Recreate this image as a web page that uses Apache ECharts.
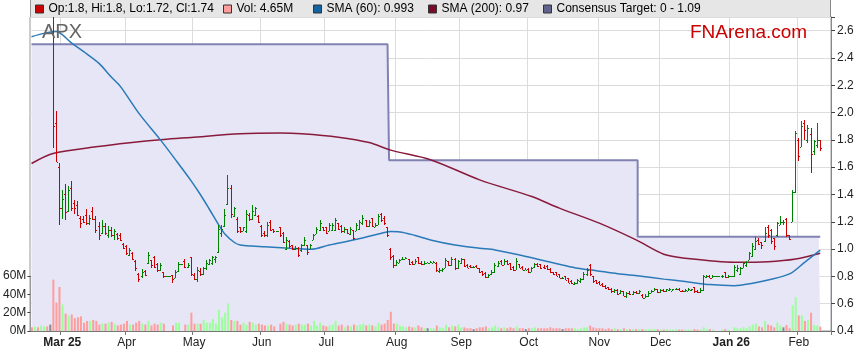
<!DOCTYPE html>
<html><head><meta charset="utf-8">
<script src="https://cdn.jsdelivr.net/npm/echarts@6/dist/echarts.min.js"></script>
<style>html,body{margin:0;padding:0;background:#fff}#c{width:859px;height:363px}</style>
</head><body><div id="c"></div>
<script>
// ---- tick labels (month starts, as category index) ----
const monthStarts = [10,31,53,75,96,119,140,162,185,205,228,250];
const monthLabels = ['Mar 25','Apr','May','Jun','Jul','Aug','Sep','Oct','Nov','Dec','Jan 26','Feb'];
const boldLabels = ['Mar 25','Jan 26'];

// ---- OHLC (price, $) ----
const open = [
2.98,2.97,3.00,2.95,3.01,3.05,2.98,2.95,1.92,1.60,
1.30,1.40,1.28,1.45,1.34,1.32,1.23,1.22,1.25,1.19,
1.28,1.22,1.17,1.12,1.17,1.10,1.14,1.10,1.11,1.10,
1.04,1.02,0.96,0.97,0.91,0.82,0.80,0.84,0.90,0.92,
0.94,0.89,0.85,0.83,0.80,0.80,0.81,0.79,0.84,0.89,
0.91,0.87,0.94,0.81,0.78,0.84,0.82,0.86,0.89,0.90,
0.93,0.98,1.12,1.17,1.33,1.45,1.24,1.22,1.16,1.13,
1.13,1.25,1.22,1.25,1.24,1.17,1.12,1.10,1.20,1.15,
1.13,1.16,1.12,1.00,1.06,1.03,1.00,1.01,0.99,1.03,
1.03,1.00,1.07,1.11,1.14,1.165,1.16,1.13,1.14,1.14,
1.19,1.17,1.13,1.15,1.11,1.14,1.13,1.15,1.19,1.21,
1.17,1.23,1.16,1.18,1.26,1.23,1.16,1.00,0.95,0.88,
0.90,0.925,0.93,0.925,0.905,0.89,0.94,0.90,0.89,0.90,
0.90,0.90,0.90,0.84,0.845,0.86,0.915,0.88,0.93,0.86,
0.90,0.925,0.885,0.875,0.87,0.875,0.86,0.84,0.825,0.795,
0.815,0.83,0.875,0.915,0.885,0.915,0.90,0.87,0.85,0.89,
0.87,0.85,0.855,0.835,0.87,0.89,0.89,0.87,0.875,0.855,
0.835,0.83,0.815,0.79,0.80,0.785,0.765,0.745,0.75,0.765,
0.78,0.82,0.88,0.80,0.77,0.76,0.745,0.73,0.72,0.71,
0.69,0.70,0.675,0.69,0.66,0.68,0.67,0.685,0.675,0.665,
0.645,0.655,0.68,0.695,0.705,0.685,0.70,0.69,0.70,0.695,
0.705,0.71,0.695,0.69,0.695,0.70,0.72,0.69,0.685,0.70,
0.795,0.805,0.79,0.80,0.80,0.80,0.83,0.795,0.805,0.80,
0.85,0.82,0.86,0.88,0.92,0.95,1.00,1.07,1.05,1.06,
1.16,1.14,1.08,1.10,1.18,1.20,1.22,1.10,1.20,1.42,
1.80,1.75,1.92,1.80,1.84,1.72,1.76,1.80];
const high = [
3.02,3.03,3.02,3.04,3.08,3.06,3.00,2.98,2.01,1.63,
1.43,1.48,1.46,1.50,1.36,1.35,1.24,1.24,1.29,1.25,
1.31,1.24,1.20,1.21,1.19,1.17,1.16,1.15,1.12,1.12,
1.045,1.03,1.01,0.98,0.918,0.825,0.855,0.85,0.98,0.92,
0.95,0.90,0.895,0.833,0.80,0.80,0.81,0.847,0.908,0.89,
0.925,0.90,0.94,0.825,0.87,0.86,0.87,0.92,0.93,0.95,
0.95,1.18,1.18,1.29,1.544,1.47,1.31,1.238,1.165,1.165,
1.287,1.263,1.324,1.31,1.25,1.177,1.13,1.20,1.21,1.15,
1.13,1.165,1.128,1.092,1.07,1.03,1.02,1.018,1.04,1.09,
1.03,1.04,1.11,1.165,1.21,1.165,1.165,1.19,1.19,1.23,
1.19,1.18,1.16,1.15,1.16,1.14,1.19,1.21,1.25,1.21,
1.21,1.23,1.19,1.26,1.267,1.24,1.165,1.006,0.96,0.92,
0.93,0.945,0.945,0.925,0.91,0.925,0.945,0.91,0.91,0.905,
0.915,0.91,0.905,0.86,0.86,0.933,0.915,0.945,0.935,0.92,
0.935,0.93,0.89,0.88,0.875,0.88,0.86,0.84,0.83,0.82,
0.845,0.896,0.91,0.92,0.925,0.92,0.90,0.875,0.933,0.89,
0.875,0.86,0.86,0.87,0.90,0.90,0.89,0.885,0.885,0.86,
0.835,0.83,0.815,0.795,0.80,0.79,0.77,0.76,0.78,0.785,
0.835,0.86,0.89,0.80,0.775,0.765,0.75,0.74,0.725,0.715,
0.71,0.705,0.70,0.69,0.685,0.69,0.69,0.69,0.70,0.668,
0.67,0.69,0.70,0.712,0.71,0.705,0.705,0.71,0.712,0.71,
0.715,0.712,0.70,0.705,0.712,0.71,0.724,0.70,0.712,0.81,
0.81,0.81,0.81,0.80,0.80,0.81,0.835,0.81,0.805,0.884,
0.884,0.87,0.908,0.91,0.982,1.043,1.092,1.08,1.055,1.16,
1.177,1.15,1.08,1.20,1.239,1.21,1.227,1.104,1.435,1.863,
1.814,1.936,1.948,1.912,1.887,1.80,1.924,1.80];
const low = [
2.94,2.95,2.93,2.94,2.99,2.96,2.95,1.74,1.64,1.18,
1.22,1.21,1.27,1.28,1.26,1.24,1.155,1.19,1.175,1.175,
1.21,1.12,1.07,1.11,1.10,1.08,1.09,1.07,1.07,1.06,
1.00,0.955,0.95,0.92,0.84,0.76,0.79,0.80,0.893,0.86,
0.865,0.83,0.84,0.79,0.80,0.80,0.755,0.789,0.835,0.89,
0.86,0.86,0.80,0.77,0.76,0.80,0.81,0.85,0.88,0.88,
0.90,0.975,1.087,1.165,1.324,1.226,1.238,1.116,1.116,1.13,
1.12,1.209,1.214,1.24,1.19,1.092,1.087,1.09,1.13,1.12,
1.13,1.087,1.043,0.994,1.01,0.99,0.99,0.94,0.98,1.02,
0.96,1.00,1.067,1.11,1.13,1.13,1.11,1.13,1.13,1.13,
1.14,1.12,1.12,1.11,1.10,1.07,1.13,1.14,1.18,1.165,
1.165,1.16,1.16,1.18,1.20,1.18,1.09,0.92,0.86,0.875,
0.895,0.92,0.925,0.885,0.885,0.89,0.89,0.885,0.885,0.895,
0.895,0.895,0.835,0.823,0.83,0.86,0.875,0.875,0.85,0.855,
0.89,0.87,0.86,0.86,0.86,0.86,0.823,0.805,0.785,0.79,
0.81,0.825,0.87,0.88,0.88,0.88,0.845,0.84,0.845,0.86,
0.845,0.845,0.823,0.83,0.865,0.87,0.855,0.855,0.85,0.823,
0.81,0.80,0.785,0.78,0.77,0.75,0.745,0.735,0.745,0.755,
0.775,0.80,0.80,0.75,0.745,0.735,0.725,0.71,0.70,0.68,
0.675,0.665,0.67,0.655,0.645,0.665,0.665,0.67,0.67,0.64,
0.64,0.65,0.675,0.69,0.68,0.68,0.685,0.685,0.695,0.69,
0.70,0.69,0.685,0.685,0.69,0.695,0.68,0.68,0.68,0.69,
0.785,0.786,0.786,0.80,0.80,0.79,0.786,0.79,0.805,0.798,
0.835,0.81,0.86,0.87,0.92,0.94,0.99,1.03,1.00,1.055,
1.08,1.04,0.99,1.09,1.177,1.18,1.092,1.068,1.20,1.41,
1.642,1.75,1.80,1.777,1.557,1.692,1.741,1.72];
const close = [
2.97,3.01,2.95,3.02,3.05,2.98,2.98,1.90,1.64,1.30,
1.37,1.27,1.43,1.30,1.30,1.25,1.19,1.20,1.19,1.23,
1.22,1.14,1.10,1.17,1.12,1.14,1.10,1.13,1.08,1.07,
1.01,0.97,0.99,0.93,0.86,0.78,0.83,0.81,0.96,0.88,
0.87,0.85,0.88,0.80,0.80,0.80,0.78,0.83,0.89,0.89,
0.87,0.88,0.82,0.78,0.85,0.82,0.86,0.90,0.92,0.94,
0.94,1.15,1.15,1.25,1.45,1.26,1.30,1.13,1.13,1.16,
1.26,1.22,1.28,1.30,1.20,1.10,1.10,1.18,1.14,1.13,
1.13,1.10,1.05,1.07,1.02,1.00,1.01,0.96,1.03,1.07,
0.98,1.03,1.10,1.15,1.19,1.14,1.12,1.18,1.18,1.21,
1.15,1.13,1.15,1.12,1.15,1.08,1.18,1.20,1.23,1.17,
1.20,1.17,1.18,1.24,1.21,1.19,1.10,0.94,0.88,0.905,
0.92,0.93,0.935,0.89,0.89,0.915,0.90,0.89,0.90,0.90,
0.905,0.905,0.85,0.85,0.855,0.92,0.88,0.93,0.86,0.91,
0.925,0.875,0.865,0.87,0.87,0.865,0.83,0.815,0.795,0.81,
0.835,0.885,0.90,0.885,0.915,0.89,0.855,0.85,0.915,0.865,
0.85,0.85,0.83,0.865,0.89,0.875,0.86,0.86,0.855,0.83,
0.815,0.805,0.79,0.79,0.775,0.755,0.75,0.755,0.77,0.78,
0.82,0.85,0.815,0.765,0.755,0.74,0.73,0.715,0.705,0.69,
0.70,0.67,0.695,0.66,0.68,0.67,0.685,0.675,0.69,0.645,
0.66,0.68,0.695,0.705,0.685,0.70,0.69,0.705,0.71,0.705,
0.71,0.695,0.69,0.70,0.705,0.705,0.69,0.685,0.70,0.80,
0.805,0.79,0.80,0.80,0.80,0.805,0.795,0.805,0.805,0.87,
0.86,0.86,0.90,0.905,0.97,1.02,1.06,1.04,1.03,1.12,
1.10,1.06,1.02,1.19,1.20,1.20,1.10,1.075,1.42,1.85,
1.68,1.90,1.87,1.89,1.70,1.79,1.80,1.74];
// ---- volume (millions) ----
const volume = [
4,5,4,6,5,5,7,56,31,48,
29,19,17,18,14,15,16,9,11,11,
12,11,7,8,8,9,10,8,6,7,
8,11,7,7,9,11,8,7,11,6,
8,7,9,8,0,0,6,9,9,0,
7,7,20,8,8,8,12,9,9,13,
8,23,15,20,30,12,11,11,7,9,
7,10,9,7,8,7,6,6,7,5,
0,8,10,8,7,6,7,8,7,7,
8,6,11,6,9,6,5,6,7,11,
6,7,4,6,5,7,6,7,8,6,
7,6,5,9,7,8,12,21,8,8,
6,5,4,5,4,4,6,4,3,3,
3,3,6,4,3,7,4,6,5,7,
4,4,3,3,2,3,4,4,5,3,
4,6,4,3,4,3,4,3,5,3,
3,2,3,3,4,3,3,3,3,4,
3,3,3,2,3,3,3,3,2,3,
4,4,6,4,3,3,3,2,3,2,
3,2,2,3,2,2,2,2,2,2,
2,2,2,2,2,1.5,1.5,2,1.5,1.5,
2,1.5,1.5,1.5,1.5,1.5,2,1.5,1.5,4,
2,2,1.5,0,0,1.5,2,1.5,0,4,
3,3,4,3,5,7,8,5,4,11,
7,6,4,9,6,4,6.5,3,28,37,
17,17,11,12,20,6.5,6,4.65];
// ---- moving averages read at sample points [categoryIndex, value] ----
const sma60 = [[0,2.556],[4,2.58],[8,2.593],[13,2.51],[18,2.43],[22,2.36],[26,2.26],[29,2.19],[35,1.994],[42,1.80],[47,1.652],[52,1.50],[55,1.40],[58,1.29],[61,1.177],[63,1.11],[66,1.05],[68,1.03],[72,1.022],[76,1.018],[84,1.006],[91,0.999],[97,1.03],[106,1.072],[113,1.11],[117,1.128],[120,1.126],[125,1.10],[130,1.067],[138,1.03],[146,1.006],[151,0.994],[159,0.957],[166,0.92],[173,0.884],[178,0.86],[184,0.842],[191,0.82],[198,0.803],[206,0.78],[213,0.762],[221,0.74],[229,0.732],[235,0.75],[240,0.774],[247,0.818],[252,0.905],[257,0.993]];
const sma200 = [[0,1.627],[7,1.70],[21,1.749],[32,1.779],[43,1.803],[52,1.818],[68,1.845],[81,1.85],[88,1.845],[100,1.82],[110,1.78],[117,1.725],[130,1.655],[146,1.507],[163,1.385],[172,1.30],[185,1.19],[197,1.067],[206,0.962],[213,0.933],[229,0.904],[240,0.908],[249,0.928],[257,0.97]];
// ---- consensus target steps ----
const targetLevels = [2.5, 1.65, 1.09];
const targetStartIdx = [0, 117, 198];
const lastDataIdx = 257;

// ---- categories: weekdays from 17 Feb 2025 ----
const categories = [];
{ const d = new Date(Date.UTC(2025,1,17));
  while (categories.length < 261) { const w = d.getUTCDay(); if (w !== 0 && w !== 6) categories.push(d.toISOString().slice(0,10)); d.setUTCDate(d.getUTCDate()+1); } }

const labelAt = {}; monthStarts.forEach((k,i)=>labelAt[k]=monthLabels[i]);
const isMonthStart = (i) => labelAt[i] !== undefined;

const ohlcData = open.map((o,i)=>[i, o, close[i], low[i], high[i]]);
const volData = volume.map((v,i)=>({value:v, itemStyle:{color: close[i] > open[i] ? '#9cff9c' : (close[i] < open[i] ? '#ff9c9c' : '#888888')}}));
const targetData = [];
for (let i = 0; i <= lastDataIdx; i++) { let lv = targetLevels[0]; targetStartIdx.forEach((s,k)=>{ if (i >= s) lv = targetLevels[k]; }); targetData.push(lv); }

const nOHLC = 'Op:1.8, Hi:1.8, Lo:1.72, Cl:1.74';
const nVol = 'Vol: 4.65M';
const nS60 = 'SMA (60): 0.993';
const nS200 = 'SMA (200): 0.97';
const nTgt = 'Consensus Target: 0 - 1.09';
const FONT = 'Liberation Sans, Arial, sans-serif';

function renderOHLC(params, api) {
  const i = api.value(0), o = api.value(1), c = api.value(2), l = api.value(3), h = api.value(4);
  const pH = api.coord([i, h]), pL = api.coord([i, l]), pO = api.coord([i, o]), pC = api.coord([i, c]);
  const x = Math.round(pH[0] - 0.5);
  const col = c >= o ? '#008000' : '#cc0000';
  const top = Math.round(pH[1]), bot = Math.round(pL[1]);
  return { type:'group', children:[
    {type:'rect', shape:{x:x, y:top, width:1, height:Math.max(1, bot-top)}, style:{fill:col}},
    {type:'rect', shape:{x:x-1, y:Math.round(pO[1]), width:1, height:1}, style:{fill:col}},
    {type:'rect', shape:{x:x+1, y:Math.round(pC[1]), width:1, height:1}, style:{fill:col}}
  ]};
}

const legendBase = {top:3, padding:0, itemWidth:8, itemHeight:8, icon:'rect', selectedMode:false,
  textStyle:{fontSize:12, color:'#000', fontFamily:FONT}, itemStyle:{borderColor:'#333', borderWidth:1}};

const chart = echarts.init(document.getElementById('c'));
chart.setOption({
  animation:false,
  backgroundColor:'#fff',
  textStyle:{fontFamily:FONT},
  graphic:[
    {type:'rect', silent:true, z:0, shape:{x:30, y:0, width:801, height:17}, style:{fill:'#e6e6e6'}},
    {type:'line', silent:true, shape:{x1:30.5, y1:0, x2:30.5, y2:17}, style:{stroke:'#999', lineWidth:1}},
    {type:'line', silent:true, shape:{x1:830.5, y1:0, x2:830.5, y2:17}, style:{stroke:'#888', lineWidth:1}},
    {type:'text', silent:true, z:10, style:{text:'APX', x:42, y:32, textVerticalAlign:'middle', font:'20px '+FONT, fill:'#666'}},
    {type:'text', silent:true, z:10, style:{text:'FNArena.com', x:690, y:33, textVerticalAlign:'middle', font:'19px '+FONT, fill:'#cc0000'}}
  ],
  legend:[
    Object.assign({}, legendBase, {left:35, data:[{name:nOHLC, itemStyle:{color:'#cc0000'}}]}),
    Object.assign({}, legendBase, {left:223, data:[{name:nVol, itemStyle:{color:'#ff9c9c'}}]}),
    Object.assign({}, legendBase, {left:313, data:[{name:nS60, itemStyle:{color:'#1464a0'}}]}),
    Object.assign({}, legendBase, {left:428, data:[{name:nS200, itemStyle:{color:'#7a0a28'}}]}),
    Object.assign({}, legendBase, {left:543, data:[{name:nTgt, itemStyle:{color:'#62628f'}}]})
  ],
  grid:[
    {left:30, right:28, top:17, bottom:32, show:true, borderColor:'#999', borderWidth:1},
    {left:30, right:28, bottom:32, height:55, show:false}
  ],
  xAxis:[
    {type:'category', gridIndex:0, data:categories, boundaryGap:true,
     axisLine:{show:true, lineStyle:{color:'#777'}},
     axisTick:{show:true, interval:(i)=>isMonthStart(i), length:4, lineStyle:{color:'#777'}},
     splitLine:{show:true, interval:(i)=>isMonthStart(i), lineStyle:{color:'#dcdcdc'}},
     axisLabel:{interval:(i)=>isMonthStart(i), margin:6, fontSize:12, color:'#222', fontFamily:FONT,
       formatter:(v,i)=>{ const t = labelAt[i]; if (!t) return ''; return boldLabels.includes(t) ? '{b|'+t+'}' : t; },
       rich:{b:{fontWeight:'bold', fontSize:12, color:'#222', fontFamily:FONT}}}},
    {type:'category', gridIndex:1, data:categories, boundaryGap:true, show:false}
  ],
  yAxis:[
    {type:'value', gridIndex:0, position:'right', min:0.4, max:2.7, interval:0.2,
     axisLine:{show:true, lineStyle:{color:'#888'}},
     axisTick:{show:true, length:4, lineStyle:{color:'#444'}},
     axisLabel:{margin:6, fontSize:12, color:'#222', fontFamily:FONT, formatter:(v)=> v > 2.65 ? '' : v.toFixed(1)},
     splitLine:{show:true, lineStyle:{color:'#dcdcdc'}}},
    {type:'value', gridIndex:1, position:'left', min:0, max:60, interval:20,
     axisLine:{show:true, lineStyle:{color:'#999'}},
     axisTick:{show:true, length:3, lineStyle:{color:'#444'}},
     axisLabel:{margin:4, fontSize:12, color:'#222', fontFamily:FONT, formatter:(v)=> v + 'M'},
     splitLine:{show:false}}
  ],
  series:[
    {name:nTgt, type:'line', xAxisIndex:0, yAxisIndex:0, data:targetData, step:'middle', symbol:'none', z:1,
     color:'#62628f', lineStyle:{color:'#8282b2', width:2}, areaStyle:{color:'#e6e6f6', opacity:1, origin:'start'}},
    {name:nVol, type:'bar', xAxisIndex:1, yAxisIndex:1, data:volData, barWidth:2, z:2, color:'#ff9c9c'},
    {name:nS200, type:'line', xAxisIndex:0, yAxisIndex:0, data:sma200, symbol:'none', smooth:0.3, z:3,
     color:'#7a0a28', lineStyle:{color:'#8a1a3c', width:1.5}},
    {name:nS60, type:'line', xAxisIndex:0, yAxisIndex:0, data:sma60, symbol:'none', smooth:0.3, z:3,
     color:'#1464a0', lineStyle:{color:'#2a7ab8', width:1.5}},
    {name:nOHLC, type:'custom', xAxisIndex:0, yAxisIndex:0, data:ohlcData, renderItem:renderOHLC, clip:true, z:4,
     color:'#cc0000', encode:{x:0, y:[1,2,3,4]}}
  ]
});
</script>
</body></html>
